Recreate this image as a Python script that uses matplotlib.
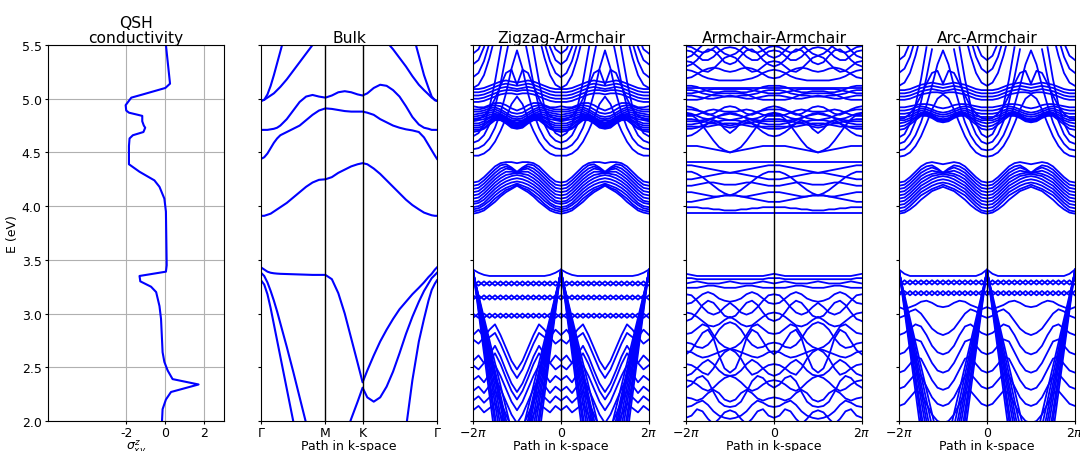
import numpy as np
import matplotlib
matplotlib.use("Agg")
import matplotlib.pyplot as plt

# ---------------- QSH conductivity ----------------
qsh_E = [5.50, 5.14, 5.10, 5.04, 5.01, 4.94, 4.89, 4.87, 4.85, 4.84, 4.79, 4.75, 4.73,
         4.69, 4.66, 4.63, 4.56, 4.39, 4.32, 4.24, 4.18, 4.07, 3.95, 3.45, 3.39, 3.35,
         3.30, 3.25, 3.20, 3.07, 2.95, 2.64, 2.55, 2.47, 2.39, 2.34, 2.27, 2.20, 2.11, 2.00]
qsh_sigma = [0.03, 0.24, 0.00, -1.15, -1.74, -2.03, -2.00, -1.86, -1.40, -1.18, -1.18,
             -1.10, -1.03, -1.12, -1.66, -1.83, -1.86, -1.86, -1.32, -0.56, -0.30, -0.05,
             0.03, 0.07, 0.03, -1.32, -1.28, -0.73, -0.47, -0.30, -0.22, -0.14, -0.05,
             0.12, 0.37, 1.70, 0.29, 0.03, -0.14, -0.17]

# ---------------- Bulk (path Gamma-M-K-Gamma) ----------------
bulk_k = [0, 0.05, 0.1, 0.15, 0.2, 0.25, 0.3, 0.4, 0.5, 0.6, 0.7, 0.8, 0.9, 1.0,
          1.1, 1.2, 1.3, 1.4, 1.5, 1.577, 1.65, 1.75, 1.85, 1.95, 2.05, 2.15, 2.25,
          2.35, 2.45, 2.53, 2.6, 2.65, 2.7, 2.732]
bulk_ticks = [0, 1.0, 1.577, 2.732]
bulk_labels = [r"$\Gamma$", "M", "K", r"$\Gamma$"]
nan = np.nan
bulk_bands = [
    [3.91, 3.91, 3.92, 3.93, 3.95, 3.97, 3.99, 4.03, 4.08, 4.13, 4.18, 4.22, 4.245, 4.25,
     4.27, 4.31, 4.34, 4.37, 4.39, 4.40, 4.39, 4.35, 4.30, 4.24, 4.18, 4.12, 4.06,
     4.01, 3.97, 3.94, 3.925, 3.915, 3.91, 3.91],
    [4.44, 4.455, 4.49, 4.54, 4.59, 4.63, 4.66, 4.69, 4.72, 4.75, 4.80, 4.85, 4.89, 4.91,
     4.905, 4.895, 4.885, 4.88, 4.88, 4.88, 4.87, 4.85, 4.81, 4.78, 4.75, 4.73, 4.715,
     4.705, 4.69, 4.64, 4.57, 4.52, 4.47, 4.44],
    [4.71, 4.71, 4.71, 4.715, 4.72, 4.73, 4.75, 4.81, 4.89, 4.97, 5.02, 5.035, 5.02, 5.01,
     5.03, 5.06, 5.07, 5.06, 5.04, 5.03, 5.05, 5.10, 5.13, 5.12, 5.08, 5.02, 4.93,
     4.83, 4.76, 4.73, 4.72, 4.71, 4.71, 4.71],
    [4.98, 4.99, 5.04, 5.12, 5.22, 5.33, 5.44, 5.66, nan, nan, nan, nan, nan, nan,
     nan, nan, nan, nan, nan, nan, nan, nan, nan, nan, nan, nan, nan,
     5.62, 5.40, 5.22, 5.10, 5.02, 4.985, 4.98],
    [4.98, 4.99, 5.01, 5.03, 5.05, 5.08, 5.11, 5.18, 5.26, 5.34, 5.42, 5.50, 5.58, nan,
     nan, nan, nan, nan, nan, nan, nan, nan, 5.60, 5.53, 5.46, 5.38, 5.30,
     5.21, 5.13, 5.08, 5.04, 5.01, 4.99, 4.98],
    [3.43, 3.41, 3.39, 3.38, 3.375, 3.372, 3.37, 3.368, 3.366, 3.364, 3.362, 3.36, 3.36, 3.36,
     3.32, 3.19, 3.00, 2.77, 2.54, 2.36, 2.47, 2.61, 2.74, 2.85, 2.95, 3.04, 3.11,
     3.18, 3.24, 3.29, 3.34, 3.37, 3.41, 3.43],
    [3.38, 3.35, 3.29, 3.21, 3.12, 3.02, 2.91, 2.69, 2.46, 2.22, 1.98, 1.74, nan, nan,
     nan, nan, 1.85, 2.02, 2.18, 2.31, 2.22, 2.18, 2.22, 2.32, 2.46, 2.63, 2.81,
     2.97, 3.11, 3.21, 3.28, 3.33, 3.36, 3.38],
    [3.31, 3.27, 3.18, 3.05, 2.90, 2.75, 2.60, 2.30, 2.00, 1.70, nan, nan, nan, nan,
     nan, nan, nan, nan, nan, nan, nan, nan, nan, nan, nan, 1.50, 1.93,
     2.38, 2.74, 2.95, 3.12, 3.22, 3.28, 3.31],
]

# ---------------- Ribbons: energies at k = 0 .. pi (step pi/8) ----------------
# Zigzag-Armchair
zz_c_low = [
    [4.22, 4.23, 4.27, 4.32, 4.37, 4.40, 4.41, 4.41, 4.40],
    [4.19, 4.20, 4.24, 4.29, 4.34, 4.38, 4.39, 4.36, 4.32],
    [4.16, 4.17, 4.21, 4.26, 4.31, 4.35, 4.37, 4.35, 4.31],
    [4.13, 4.14, 4.18, 4.23, 4.28, 4.32, 4.35, 4.34, 4.31],
    [4.10, 4.11, 4.15, 4.20, 4.25, 4.29, 4.32, 4.32, 4.31],
    [4.07, 4.08, 4.12, 4.17, 4.22, 4.26, 4.29, 4.30, 4.31],
    [4.04, 4.05, 4.09, 4.14, 4.19, 4.23, 4.26, 4.28, 4.29],
    [4.02, 4.03, 4.06, 4.11, 4.16, 4.20, 4.23, 4.25, 4.26],
    [3.99, 4.00, 4.03, 4.08, 4.13, 4.17, 4.20, 4.22, 4.23],
    [3.97, 3.98, 4.01, 4.05, 4.10, 4.14, 4.17, 4.19, 4.21],
    [3.95, 3.96, 3.98, 4.02, 4.07, 4.11, 4.15, 4.17, 4.20],
    [3.93, 3.94, 3.96, 4.00, 4.04, 4.09, 4.13, 4.16, 4.19],
]
zz_c_mid = [
    [4.93, 4.92, 4.92, 4.94, 4.96, 4.96, 4.94, 4.91, 4.89],
    [4.90, 4.90, 4.91, 4.93, 4.94, 4.93, 4.90, 4.87, 4.86],
    [4.88, 4.88, 4.89, 4.91, 4.92, 4.90, 4.87, 4.84, 4.83],
    [4.85, 4.86, 4.87, 4.89, 4.90, 4.88, 4.85, 4.82, 4.81],
    [4.83, 4.84, 4.85, 4.87, 4.88, 4.86, 4.83, 4.80, 4.80],
    [4.81, 4.82, 4.83, 4.85, 4.86, 4.85, 4.82, 4.79, 4.78],
    [4.79, 4.80, 4.81, 4.83, 4.85, 4.84, 4.81, 4.78, 4.77],
    [4.77, 4.77, 4.79, 4.82, 4.84, 4.83, 4.80, 4.77, 4.76],
    [4.75, 4.75, 4.77, 4.80, 4.83, 4.82, 4.79, 4.76, 4.75],
    [4.73, 4.73, 4.75, 4.79, 4.82, 4.82, 4.79, 4.75, 4.74],
    [4.71, 4.71, 4.73, 4.77, 4.81, 4.81, 4.78, 4.74, 4.73],
    [4.69, 4.70, 4.72, 4.76, 4.80, 4.80, 4.77, 4.73, 4.72],
]
zz_c_high = [
    [5.09, 5.09, 5.10, 5.12, 5.14, 5.16, 5.17, 5.16, 5.15],
    [5.06, 5.06, 5.07, 5.09, 5.11, 5.13, 5.14, 5.13, 5.12],
    [5.03, 5.03, 5.04, 5.06, 5.08, 5.10, 5.11, 5.10, 5.09],
    [5.00, 5.00, 5.01, 5.03, 5.05, 5.07, 5.08, 5.08, 5.07],
    [4.97, 4.97, 4.98, 5.00, 5.02, 5.04, 5.05, 5.05, 5.04],
    [4.80, 4.81, 4.84, 4.90, 5.00, 5.12, 5.24, 5.27, 5.13],
]
zz_c_u = [
    [4.47, 4.47, 4.49, 4.53, 4.60, 4.70, 4.82, 4.95, 5.02],
    [4.53, 4.54, 4.57, 4.63, 4.73, 4.87, 5.05, 5.28, 5.45],
    [4.59, 4.61, 4.66, 4.76, 4.92, 5.14, 5.40, 5.65, nan],
    [4.65, 4.68, 4.76, 4.92, 5.16, 5.45, 5.75, nan, nan],
    [5.10, 5.13, 5.22, 5.38, 5.58, nan, nan, nan, nan],
    [5.20, 5.24, 5.35, 5.52, nan, nan, nan, nan, nan],
    [5.32, 5.36, 5.48, 5.66, nan, nan, nan, nan, nan],
    [5.42, 5.46, 5.58, nan, nan, nan, nan, nan, nan],
]
zz_v_flat = [
    [3.41, 3.38, 3.36, 3.35, 3.35, 3.35, 3.35, 3.35, 3.35],
    [3.30, 3.26, 3.30, 3.26, 3.30, 3.26, 3.30, 3.26, 3.30],
    [3.26, 3.30, 3.26, 3.30, 3.26, 3.30, 3.26, 3.30, 3.26],
    [3.17, 3.13, 3.17, 3.13, 3.17, 3.13, 3.17, 3.13, 3.17],
    [3.13, 3.17, 3.13, 3.17, 3.13, 3.17, 3.13, 3.17, 3.13],
    [3.00, 2.96, 3.00, 2.96, 3.00, 2.96, 3.00, 2.96, 3.00],
    [2.96, 3.00, 2.96, 3.00, 2.96, 3.00, 2.96, 3.00, 2.96],
]
zz_v_nest = [
    [2.80, 2.85, 2.78, 2.85, 2.90, 2.80, 2.68, 2.56, 2.48],
    [2.76, 2.72, 2.78, 2.78, 2.82, 2.72, 2.60, 2.48, 2.40],
    [2.56, 2.61, 2.54, 2.62, 2.70, 2.60, 2.47, 2.35, 2.27],
    [2.52, 2.48, 2.54, 2.56, 2.63, 2.53, 2.40, 2.28, 2.20],
    [2.38, 2.42, 2.36, 2.44, 2.52, 2.42, 2.30, 2.18, 2.10],
    [2.28, 2.32, 2.26, 2.33, 2.40, 2.30, 2.18, 2.06, 1.98],
    [2.19, 2.23, 2.17, 2.22, 2.28, 2.18, 2.06, 1.94, nan],
    [2.10, 2.14, 2.08, 2.12, 2.16, 2.06, 1.94, nan, nan],
]
zz_v_arm = [
    [3.41, 3.02, 2.63, 2.24, 1.85, nan, nan, nan, nan],
    [3.41, 3.05, 2.69, 2.33, 1.97, 1.61, nan, nan, nan],
    [3.41, 3.07, 2.73, 2.39, 2.05, 1.71, nan, nan, nan],
    [3.40, 3.09, 2.78, 2.47, 2.16, 1.85, nan, nan, nan],
    [3.40, 3.11, 2.82, 2.53, 2.24, 1.95, nan, nan, nan],
    [3.40, 3.13, 2.86, 2.59, 2.32, 2.05, 1.78, nan, nan],
    [3.39, 3.14, 2.89, 2.64, 2.39, 2.14, 1.89, nan, nan],
    [3.39, 3.15, 2.91, 2.67, 2.43, 2.19, 1.95, nan, nan],
    [3.39, 3.16, 2.93, 2.70, 2.47, 2.24, 2.01, 1.78, nan],
    [3.38, 3.17, 2.96, 2.75, 2.54, 2.33, 2.12, 1.91, nan],
]

# Armchair-Armchair
aa_c_low = [
    [4.41, 4.41, 4.41, 4.41, 4.41, 4.41, 4.41, 4.41, 4.41],
    [4.38, 4.38, 4.37, 4.36, 4.35, 4.34, 4.33, 4.32, 4.31],
    [4.25, 4.25, 4.26, 4.27, 4.28, 4.29, 4.30, 4.31, 4.31],
    [4.32, 4.32, 4.30, 4.27, 4.23, 4.19, 4.15, 4.12, 4.10],
    [4.19, 4.19, 4.20, 4.21, 4.22, 4.22, 4.21, 4.20, 4.20],
    [4.13, 4.13, 4.12, 4.11, 4.10, 4.09, 4.09, 4.10, 4.10],
    [4.04, 4.04, 4.05, 4.06, 4.07, 4.08, 4.09, 4.10, 4.10],
    [3.99, 3.99, 3.99, 3.98, 3.98, 3.97, 3.97, 3.96, 3.96],
    [3.94, 3.94, 3.94, 3.94, 3.94, 3.94, 3.94, 3.94, 3.94],
]
aa_c_mid = [
    [4.86, 4.85, 4.81, 4.75, 4.68, 4.61, 4.55, 4.52, 4.50],
    [4.56, 4.56, 4.56, 4.55, 4.54, 4.53, 4.52, 4.51, 4.50],
    [4.65, 4.66, 4.69, 4.73, 4.77, 4.80, 4.78, 4.72, 4.68],
    [4.93, 4.92, 4.90, 4.87, 4.85, 4.86, 4.89, 4.92, 4.93],
    [4.90, 4.90, 4.89, 4.88, 4.86, 4.84, 4.82, 4.81, 4.80],
    [4.87, 4.86, 4.84, 4.82, 4.81, 4.82, 4.84, 4.86, 4.87],
    [4.84, 4.84, 4.85, 4.87, 4.89, 4.90, 4.89, 4.88, 4.88],
    [4.81, 4.81, 4.80, 4.79, 4.78, 4.78, 4.79, 4.80, 4.80],
    [4.79, 4.79, 4.79, 4.80, 4.81, 4.80, 4.78, 4.76, 4.75],
    [4.76, 4.76, 4.77, 4.78, 4.80, 4.82, 4.84, 4.85, 4.86],
    [4.74, 4.74, 4.74, 4.74, 4.74, 4.75, 4.76, 4.77, 4.77],
    [4.72, 4.72, 4.73, 4.75, 4.77, 4.77, 4.76, 4.74, 4.73],
]
aa_c_high = [
    [5.12, 5.12, 5.11, 5.09, 5.07, 5.06, 5.06, 5.07, 5.07],
    [5.10, 5.10, 5.10, 5.10, 5.10, 5.10, 5.10, 5.10, 5.10],
    [5.08, 5.08, 5.07, 5.05, 5.04, 5.03, 5.03, 5.02, 5.02],
    [5.05, 5.05, 5.06, 5.07, 5.08, 5.09, 5.09, 5.09, 5.09],
    [5.03, 5.03, 5.02, 5.01, 5.00, 5.00, 5.01, 5.02, 5.03],
    [4.99, 4.99, 4.99, 5.00, 5.02, 5.04, 5.05, 5.05, 5.05],
    [5.27, 5.26, 5.24, 5.21, 5.19, 5.18, 5.17, 5.17, 5.17],
    [5.19, 5.20, 5.23, 5.26, 5.28, 5.29, 5.28, 5.26, 5.25],
    [5.35, 5.34, 5.30, 5.26, 5.25, 5.28, 5.33, 5.38, 5.40],
    [5.45, 5.44, 5.40, 5.36, 5.36, 5.39, 5.44, 5.47, 5.48],
    [5.38, 5.40, 5.45, 5.50, 5.53, 5.51, 5.46, 5.42, 5.40],
    [5.30, 5.32, 5.36, 5.42, 5.46, 5.45, 5.40, 5.34, 5.32],
    [5.49, 5.48, 5.45, 5.43, 5.44, 5.47, 5.51, 5.55, 5.56],
]
aa_v = [
    [3.37, 3.36, 3.35, 3.35, 3.35, 3.35, 3.35, 3.35, 3.35],
    [3.33, 3.33, 3.32, 3.32, 3.32, 3.32, 3.32, 3.32, 3.32],
    [3.28, 3.29, 3.30, 3.29, 3.28, 3.28, 3.28, 3.29, 3.30],
    [3.24, 3.24, 3.24, 3.25, 3.26, 3.26, 3.25, 3.24, 3.24],
    [3.18, 3.17, 3.12, 3.06, 3.01, 2.99, 3.01, 3.06, 3.10],
    [3.09, 3.10, 3.14, 3.18, 3.20, 3.18, 3.14, 3.12, 3.11],
    [3.01, 3.00, 2.97, 2.93, 2.89, 2.88, 2.90, 2.94, 2.97],
    [2.93, 2.95, 3.01, 3.08, 3.12, 3.10, 3.04, 2.98, 2.96],
    [2.81, 2.82, 2.86, 2.90, 2.88, 2.80, 2.73, 2.69, 2.67],
    [2.73, 2.72, 2.69, 2.68, 2.71, 2.77, 2.85, 2.90, 2.92],
    [2.65, 2.64, 2.61, 2.59, 2.60, 2.62, 2.64, 2.66, 2.67],
    [2.62, 2.66, 2.74, 2.82, 2.85, 2.77, 2.61, 2.49, 2.45],
    [2.53, 2.52, 2.49, 2.45, 2.43, 2.49, 2.58, 2.64, 2.67],
    [2.42, 2.44, 2.49, 2.54, 2.57, 2.53, 2.47, 2.43, 2.42],
    [2.38, 2.37, 2.34, 2.30, 2.28, 2.31, 2.36, 2.40, 2.42],
    [2.31, 2.34, 2.40, 2.42, 2.37, 2.27, 2.18, 2.14, 2.13],
    [2.22, 2.21, 2.19, 2.21, 2.26, 2.29, 2.26, 2.20, 2.18],
    [2.13, 2.14, 2.17, 2.19, 2.15, 2.09, 2.05, 2.03, 2.02],
    [2.03, 2.05, 2.11, 2.09, 2.02, 1.97, 2.02, 2.08, 2.10],
]

# Arc-Armchair
ac_c_low = [
    [4.22, 4.23, 4.27, 4.32, 4.37, 4.40, 4.41, 4.40, 4.39],
    [4.19, 4.20, 4.24, 4.29, 4.34, 4.37, 4.38, 4.35, 4.31],
    [4.16, 4.17, 4.21, 4.26, 4.31, 4.34, 4.36, 4.34, 4.31],
    [4.13, 4.14, 4.18, 4.23, 4.28, 4.31, 4.33, 4.32, 4.31],
    [4.10, 4.11, 4.15, 4.20, 4.25, 4.28, 4.30, 4.31, 4.31],
    [4.07, 4.08, 4.12, 4.17, 4.22, 4.25, 4.28, 4.29, 4.30],
    [4.04, 4.05, 4.09, 4.14, 4.19, 4.22, 4.25, 4.27, 4.28],
    [4.01, 4.02, 4.06, 4.11, 4.16, 4.19, 4.22, 4.24, 4.25],
    [3.98, 3.99, 4.03, 4.08, 4.13, 4.16, 4.19, 4.21, 4.22],
    [3.95, 3.96, 4.00, 4.05, 4.10, 4.13, 4.16, 4.18, 4.20],
    [3.93, 3.94, 3.97, 4.01, 4.06, 4.10, 4.14, 4.16, 4.18],
]
ac_c_mid = [
    [4.92, 4.92, 4.93, 4.94, 4.95, 4.95, 4.94, 4.92, 4.91],
    [4.89, 4.89, 4.90, 4.92, 4.93, 4.92, 4.90, 4.88, 4.87],
    [4.86, 4.86, 4.87, 4.89, 4.91, 4.90, 4.88, 4.86, 4.85],
    [4.83, 4.83, 4.84, 4.87, 4.89, 4.88, 4.86, 4.84, 4.83],
    [4.80, 4.80, 4.82, 4.85, 4.87, 4.87, 4.85, 4.82, 4.81],
    [4.77, 4.78, 4.80, 4.83, 4.86, 4.86, 4.84, 4.81, 4.80],
    [4.74, 4.75, 4.78, 4.82, 4.85, 4.85, 4.83, 4.80, 4.79],
    [4.71, 4.72, 4.76, 4.80, 4.84, 4.84, 4.82, 4.79, 4.78],
]
ac_c_high = [
    [5.08, 5.08, 5.09, 5.11, 5.13, 5.14, 5.15, 5.14, 5.13],
    [5.05, 5.05, 5.06, 5.08, 5.10, 5.11, 5.12, 5.11, 5.10],
    [5.02, 5.02, 5.03, 5.05, 5.07, 5.08, 5.09, 5.08, 5.07],
    [4.99, 4.99, 5.00, 5.02, 5.04, 5.05, 5.06, 5.06, 5.05],
    [4.81, 4.82, 4.86, 4.93, 5.03, 5.14, 5.24, 5.26, 5.14],
]
ac_c_u = [
    [4.46, 4.47, 4.50, 4.56, 4.65, 4.77, 4.90, 5.00, 5.04],
    [4.52, 4.53, 4.58, 4.66, 4.78, 4.94, 5.12, 5.32, 5.45],
    [4.58, 4.60, 4.67, 4.79, 4.97, 5.20, 5.46, nan, nan],
    [4.64, 4.67, 4.77, 4.94, 5.18, 5.48, nan, nan, nan],
    [5.12, 5.15, 5.24, 5.40, 5.60, nan, nan, nan, nan],
    [5.24, 5.28, 5.39, 5.56, nan, nan, nan, nan, nan],
    [5.36, 5.40, 5.52, nan, nan, nan, nan, nan, nan],
]
ac_v_flat = [
    [3.41, 3.37, 3.35, 3.35, 3.35, 3.35, 3.35, 3.35, 3.35],
    [3.31, 3.27, 3.31, 3.27, 3.31, 3.27, 3.31, 3.27, 3.31],
    [3.27, 3.31, 3.27, 3.31, 3.27, 3.31, 3.27, 3.31, 3.27],
    [3.21, 3.17, 3.21, 3.17, 3.21, 3.17, 3.21, 3.17, 3.21],
    [3.17, 3.21, 3.17, 3.21, 3.17, 3.21, 3.17, 3.21, 3.17],
    [3.06, 3.04, 3.06, 3.08, 3.11, 3.12, 3.10, 3.07, 3.06],
]
ac_v_nest = [
    [2.96, 2.98, 3.02, 3.04, 3.00, 2.93, 2.86, 2.82, 2.80],
    [2.80, 2.82, 2.86, 2.90, 2.88, 2.80, 2.70, 2.64, 2.62],
    [2.62, 2.64, 2.70, 2.76, 2.74, 2.64, 2.54, 2.47, 2.45],
    [2.45, 2.47, 2.53, 2.60, 2.58, 2.48, 2.38, 2.31, 2.29],
    [2.30, 2.32, 2.38, 2.44, 2.42, 2.32, 2.22, 2.16, 2.14],
    [2.14, 2.16, 2.22, 2.28, 2.26, 2.16, 2.06, 2.00, 1.98],
]
ac_v_arm = [
    [3.41, 3.03, 2.65, 2.27, 1.89, nan, nan, nan, nan],
    [3.41, 3.06, 2.71, 2.36, 2.01, 1.66, nan, nan, nan],
    [3.41, 3.08, 2.75, 2.42, 2.09, 1.76, nan, nan, nan],
    [3.40, 3.10, 2.80, 2.50, 2.20, 1.90, nan, nan, nan],
    [3.40, 3.12, 2.84, 2.56, 2.28, 2.00, 1.72, nan, nan],
    [3.40, 3.13, 2.87, 2.61, 2.35, 2.09, 1.83, nan, nan],
    [3.39, 3.15, 2.91, 2.67, 2.43, 2.19, 1.95, nan, nan],
    [3.39, 3.17, 2.95, 2.73, 2.51, 2.29, 2.07, 1.85, nan],
]

ribbons = [
    ("Zigzag-Armchair", [zz_c_low, zz_c_mid, zz_c_high, zz_c_u, zz_v_flat, zz_v_nest, zz_v_arm]),
    ("Armchair-Armchair", [aa_c_low, aa_c_mid, aa_c_high, aa_v]),
    ("Arc-Armchair", [ac_c_low, ac_c_mid, ac_c_high, ac_c_u, ac_v_flat, ac_v_nest, ac_v_arm]),
]


def full_band(v):
    # values given on [0, pi]; bands are even in k and periodic with 2*pi
    v = np.asarray(v, dtype=float)
    per = np.concatenate([v, v[-2::-1]])
    return np.concatenate([per[:0:-1], per])


k_full = np.linspace(-2, 2, 33) * np.pi
blue = "#0000ff"
plt.rcParams["font.size"] = 9
plt.rcParams["xtick.major.size"] = 2.5
plt.rcParams["ytick.major.size"] = 2.5
plt.rcParams["xtick.major.pad"] = 1
plt.rcParams["ytick.major.pad"] = 2

fig = plt.figure(figsize=(10.8, 4.52), dpi=100)
W, H = 1080, 452
lefts = [48, 261, 473, 686, 899]
axs = [fig.add_axes([l / W, 30 / H, 176 / W, 376 / H]) for l in lefts]
yt = np.arange(2.0, 5.51, 0.5)
title_fs = 11.2

# conductivity
ax = axs[0]
ax.plot(qsh_sigma, qsh_E, color=blue, lw=1.5)
ax.set_xlim(-6, 3)
ax.set_ylim(2, 5.5)
ax.set_xticks([-2, 0, 2])
ax.set_xticklabels(["-2", "0", "2"])
ax.set_yticks(yt)
ax.grid(True, color="#b0b0b0", lw=0.8)
ax.set_ylabel("E (eV)", labelpad=2)
ax.set_xlabel(r"$\sigma^{z}_{xy}$", labelpad=-1)
ax.set_title("QSH\nconductivity", fontsize=title_fs, linespacing=1.0, pad=2)

# bulk
ax = axs[1]
for b in bulk_bands:
    ax.plot(bulk_k, b, color=blue, lw=1.5)
for t in bulk_ticks[1:3]:
    ax.axvline(t, color="k", lw=1)
ax.set_xlim(0, 2.732)
ax.set_ylim(2, 5.5)
ax.set_xticks(bulk_ticks)
ax.set_xticklabels(bulk_labels)
ax.set_yticks(yt)
ax.set_yticklabels([])
ax.set_xlabel("Path in k-space", labelpad=0)
ax.set_title("Bulk", fontsize=title_fs, pad=2)

# ribbons
for ax, (title, groups) in zip(axs[2:], ribbons):
    for g in groups:
        for b in g:
            ax.plot(k_full, full_band(b), color=blue, lw=1.3)
    ax.axvline(0, color="k", lw=1)
    ax.set_xlim(-2 * np.pi, 2 * np.pi)
    ax.set_ylim(2, 5.5)
    ax.set_xticks([-2 * np.pi, 0, 2 * np.pi])
    ax.set_xticklabels([r"$-2\pi$", "0", r"$2\pi$"])
    ax.set_yticks(yt)
    ax.set_yticklabels([])
    ax.set_xlabel("Path in k-space", labelpad=0)
    ax.set_title(title, fontsize=title_fs, pad=2)

fig.savefig("out.png", dpi=100)
